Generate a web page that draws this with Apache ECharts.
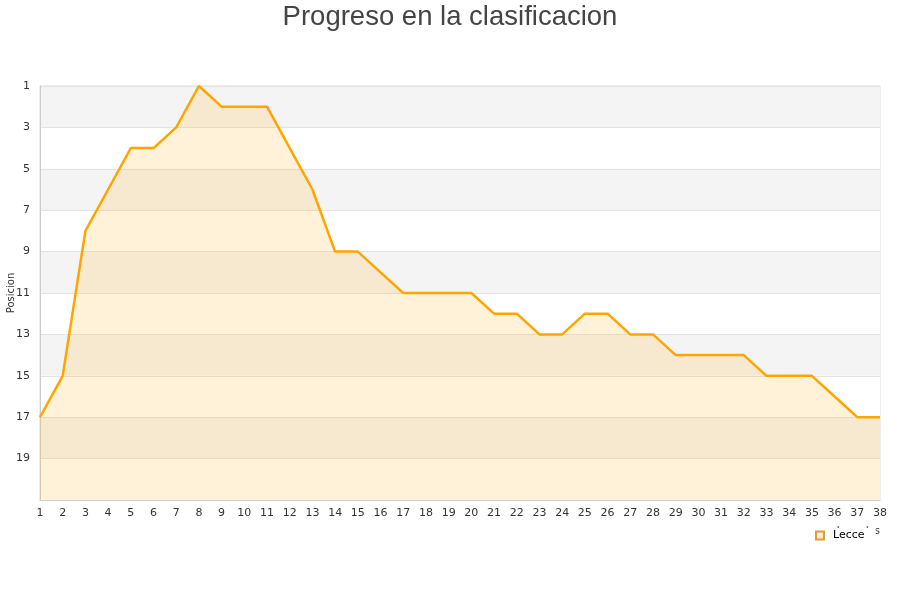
<!doctype html>
<html lang="es">
<head>
  <meta charset="utf-8">
  <title>Progreso en la clasificacion</title>
  <script src="https://cdn.jsdelivr.net/npm/echarts@6/dist/echarts.min.js"></script>
  <style>
    html, body { margin: 0; padding: 0; background: #fff; }
    #chart { width: 900px; height: 600px; }
  </style>
</head>
<body>
  <div id="chart"></div>
  <script type="text/javascript">
    // jornadas 1..38
    const jornadas = [];
    for (let j = 1; j <= 38; j++) jornadas.push(String(j));
    // posicion del Lecce en cada jornada
    const posLecce = [17, 15, 8, 6, 4, 4, 3, 1, 2, 2,
                      2, 4, 6, 9, 9, 10, 11, 11, 11, 11,
                      12, 12, 13, 13, 12, 12, 13, 13, 14, 14,
                      14, 14, 15, 15, 15, 16, 17, 17];

    let chart = echarts.init(document.getElementById('chart'));
    let option = {
      animation: false,
      title: {
        text: 'Progreso en la clasificacion',
        left: 'center',
        top: -2,
        textStyle: {
          color: '#444',
          fontSize: 27.5,
          fontWeight: 'normal',
          fontFamily: 'Liberation Sans'
        }
      },
      grid: {
        left: 40, right: 20, top: 86, bottom: 100,
        outerBoundsMode: 'none',
        containLabel: false,
        show: true, borderColor: '#ddd', borderWidth: 1
      },
      legend: {
        data: ['Lecce'],
        left: 809,
        top: 528,
        icon: 'rect',
        itemWidth: 8,
        itemHeight: 8,
        itemGap: 5,
        backgroundColor: '#fff',
        padding: [2, 11, 2, 6],
        z: 10,
        textStyle: { color: '#000', fontSize: 11, fontFamily: 'DejaVu Sans', padding: [0, 0, 0, 4] }
      },
      xAxis: {
        type: 'category',
        data: jornadas,
        boundaryGap: false,
        name: 'Jornadas',
        nameLocation: 'end',
        nameGap: 0,
        nameMoveOverlap: false,
        nameTextStyle: {
          align: 'right', verticalAlign: 'top', fontSize: 10,
          color: '#333', padding: [26, 0, 0, 0], fontFamily: 'DejaVu Sans'
        },
        axisLine: { lineStyle: { color: '#ccc' } },
        axisTick: { show: false },
        axisLabel: { color: '#333', fontSize: 11, margin: 8, fontFamily: 'DejaVu Sans' },
        splitLine: { show: false }
      },
      yAxis: {
        type: 'value',
        inverse: true,
        min: 1,
        max: 21,
        interval: 2,
        name: 'Posicion',
        nameLocation: 'middle',
        nameGap: 24,
        nameMoveOverlap: false,
        nameTextStyle: { color: '#333', fontSize: 10, fontFamily: 'DejaVu Sans' },
        axisLine: { show: true, lineStyle: { color: '#ccc' } },
        axisTick: { show: false },
        axisLabel: {
          color: '#333', fontSize: 11, margin: 10, fontFamily: 'DejaVu Sans',
          showMaxLabel: false
        },
        splitLine: { show: true, lineStyle: { color: '#e2e2e2' } },
        splitArea: { show: true, areaStyle: { color: ['#f4f4f4', '#ffffff'] } }
      },
      series: [{
        name: 'Lecce',
        type: 'line',
        data: posLecce,
        showSymbol: false,
        symbol: 'none',
        color: '#ffa500',
        lineStyle: { color: '#ffa500', width: 2.5 },
        areaStyle: { color: 'rgba(255,185,50,0.27)', origin: 'end' },
        itemStyle: { color: '#fde9c4', borderColor: '#d9a040', borderWidth: 1 }
      }]
    };
    chart.setOption(option);
  </script>
</body>
</html>
